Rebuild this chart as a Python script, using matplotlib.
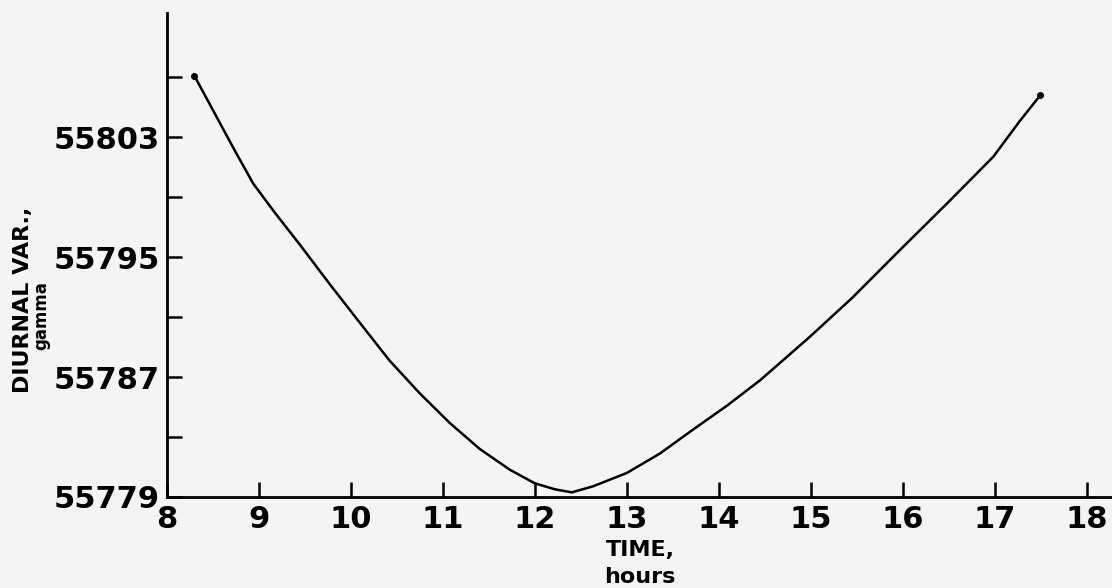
import matplotlib.pyplot as plt

# values
hours = [8.30, 8.52, 8.74, 8.94, 9.17, 9.45, 9.77, 10.10, 10.42, 10.75,
         11.08, 11.40, 11.73, 12.00, 12.22, 12.40, 12.63, 13.00, 13.36, 13.72,
         14.09, 14.45, 14.99, 15.45, 15.97, 16.48, 16.98, 17.27, 17.49]
gamma = [55807.1, 55804.6, 55802.1, 55799.9, 55798.0, 55795.8, 55793.2, 55790.6, 55788.1, 55785.9,
         55783.9, 55782.2, 55780.8, 55779.9, 55779.5, 55779.3, 55779.7, 55780.6, 55781.9, 55783.5,
         55785.1, 55786.8, 55789.7, 55792.3, 55795.5, 55798.6, 55801.7, 55804.1, 55805.8]

x_ticks = [8, 9, 10, 11, 12, 13, 14, 15, 16, 17, 18]
y_ticks = [55779, 55783, 55787, 55791, 55795, 55799, 55803, 55807]
y_tick_labels = ['55779', '', '55787', '', '55795', '', '55803', '']

bg = '#f4f4f4'
fig = plt.figure(figsize=(11.12, 5.88), dpi=100, facecolor=bg)
ax = fig.add_axes([0.150, 0.155, 0.850, 0.823], facecolor=bg)

ax.plot(hours, gamma, color='black', linewidth=1.8,
        solid_capstyle='round', solid_joinstyle='round')
ax.plot([hours[0], hours[-1]], [gamma[0], gamma[-1]], 'o', color='black', markersize=4)

ax.set_xlim(8, 18.27)
ax.set_ylim(55779, 55811.3)

for side in ['top', 'right']:
    ax.spines[side].set_visible(False)
for side in ['left', 'bottom']:
    ax.spines[side].set_linewidth(2.0)

ax.set_xticks(x_ticks)
ax.set_yticks(y_ticks)
ax.set_yticklabels(y_tick_labels)
ax.tick_params(direction='in', length=11, width=1.8, labelsize=22, pad=5)
ax.tick_params(axis='x', pad=6)
for lbl in ax.get_xticklabels() + ax.get_yticklabels():
    lbl.set_fontweight('bold')

# axis titles, two lines each
fig.text(23 / 1112, 1 - 300 / 588, 'DIURNAL VAR.,', rotation=90, ha='center', va='center',
         fontsize=16, fontweight='bold')
fig.text(41 / 1112, 1 - 316 / 588, 'gamma', rotation=90, ha='center', va='center',
         fontsize=12, fontweight='bold')
fig.text(640 / 1112, 1 - 550 / 588, 'TIME,', ha='center', va='center',
         fontsize=16, fontweight='bold')
fig.text(640 / 1112, 1 - 577 / 588, 'hours', ha='center', va='center',
         fontsize=16, fontweight='bold')

plt.savefig('out.png', dpi=100, facecolor=bg)
